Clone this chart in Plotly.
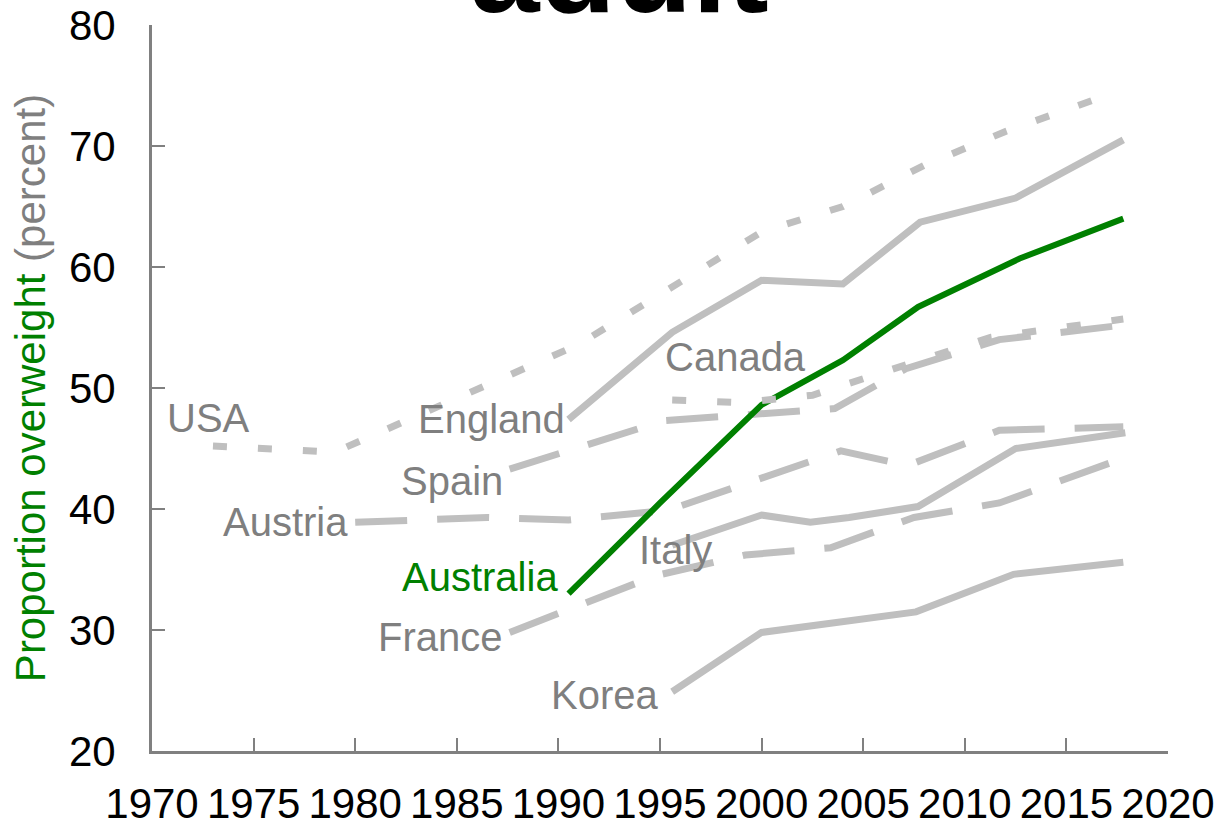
import plotly.graph_objects as go

# Survey years and share of adults overweight (percent)
usa_years = [1973, 1979, 1991, 2000, 2004, 2008, 2012, 2017.5]
usa_vals = [45.2, 44.7, 53.6, 62.9, 65.0, 68.4, 71.2, 74.5]

england_years = [1990.5, 1995.6, 2000, 2004, 2007.8, 2012.5, 2017.8]
england_vals = [47.4, 54.6, 58.9, 58.6, 63.7, 65.7, 70.5]

canada_years = [1995.6, 1999, 2002.5, 2011.3, 2017.8]
canada_vals = [49.0, 48.8, 49.4, 54.2, 55.7]

spain_years = [1987.6, 1995.2, 2003.6, 2007.1, 2011.7, 2017.8]
spain_vals = [43.3, 47.3, 48.3, 51.6, 54.0, 55.2]

austria_years = [1980, 1986.5, 1990.5, 1995.4, 2003.9, 2007.2, 2011.7, 2017.8]
austria_vals = [38.9, 39.3, 39.1, 39.9, 44.8, 43.6, 46.5, 46.8]

italy_years = [1995.6, 2000, 2002.4, 2004.3, 2007.7, 2012.5, 2017.9]
italy_vals = [37.0, 39.5, 38.9, 39.3, 40.2, 45.0, 46.3]

france_years = [1987.6, 1994.8, 1999.2, 2003.4, 2007.5, 2011.7, 2017.8]
france_vals = [29.8, 34.5, 36.2, 36.8, 39.3, 40.5, 44.2]

korea_years = [1995.6, 2000, 2007.6, 2012.4, 2017.8]
korea_vals = [24.9, 29.8, 31.5, 34.6, 35.6]

australia_years = [1990.5, 1995, 2000, 2004, 2007.7, 2012.7, 2017.8]
australia_vals = [33.0, 40.5, 48.6, 52.3, 56.7, 60.7, 64.0]

x_ticks = list(range(1970, 2021, 5))
y_ticks = list(range(20, 81, 10))

# Text labels: (name, year, value, anchor)
labels = [
    ("USA", 1970.64, 47.5, "left"),
    ("England", 1990.42, 47.4, "right"),
    ("Spain", 1987.37, 42.3, "right"),
    ("Austria", 1979.74, 38.9, "right"),
    ("France", 1987.37, 29.4, "right"),
    ("Italy", 1993.87, 36.6, "left"),
    ("Korea", 1995.0, 24.6, "right"),
    ("Canada", 1995.16, 52.6, "left"),
]
australia_label = ("Australia", 1990.08, 34.4, "right")

GREY = "#BFBFBF"
LABEL_GREY = "#7F7F7F"
GREEN = "#008000"
AXIS_GREY = "#808080"
FONT = "Liberation Sans, Arial, sans-serif"

DOTTED = "14px,31px"
LONGDASH = "52px,30px"

series = [
    (usa_years, usa_vals, DOTTED, GREY, 7),
    (england_years, england_vals, "solid", GREY, 7),
    (spain_years, spain_vals, LONGDASH, GREY, 7),
    (austria_years, austria_vals, LONGDASH, GREY, 7),
    (france_years, france_vals, LONGDASH, GREY, 7),
    (italy_years, italy_vals, "solid", GREY, 7),
    (korea_years, korea_vals, "solid", GREY, 7),
    (australia_years, australia_vals, "solid", GREEN, 6),
    (canada_years, canada_vals, DOTTED, GREY, 7),
]

fig = go.Figure()
for xs, ys, dash, color, width in series:
    fig.add_trace(go.Scatter(
        x=xs, y=ys, mode="lines",
        line=dict(color=color, width=width, dash=dash),
        showlegend=False, hoverinfo="skip",
    ))

for name, x, y, anchor in labels:
    fig.add_annotation(x=x, y=y, text=name, showarrow=False,
                       xanchor=anchor, yanchor="middle",
                       font=dict(family=FONT, size=40, color=LABEL_GREY))
name, x, y, anchor = australia_label
fig.add_annotation(x=x, y=y, text=name, showarrow=False,
                   xanchor=anchor, yanchor="middle",
                   font=dict(family=FONT, size=40, color=GREEN))

# Heading
fig.add_annotation(x=0.46, y=1.078, xref="paper", yref="paper",
                   text="<b>adult</b>", showarrow=False,
                   xanchor="center", yanchor="middle",
                   font=dict(family=FONT, size=125, color="#000000"))

fig.update_layout(
    width=1219, height=827,
    margin=dict(l=152, r=51, t=25, b=76, autoexpand=False),
    paper_bgcolor="white", plot_bgcolor="white",
    font=dict(family=FONT, color="#000000"),
    xaxis=dict(
        range=[1970, 2020], tickvals=x_ticks,
        ticktext=[str(t) for t in x_ticks],
        automargin=False,
        showgrid=False, zeroline=False,
        showline=True, linecolor=AXIS_GREY, linewidth=3,
        ticks="inside", ticklen=13, tickwidth=2, tickcolor=AXIS_GREY,
        tickfont=dict(family=FONT, size=42, color="#000000"),
        ticklabelstandoff=14,
    ),
    yaxis=dict(
        range=[20, 80], tickvals=y_ticks,
        automargin=False,
        showgrid=False, zeroline=False,
        showline=True, linecolor=AXIS_GREY, linewidth=3,
        ticks="inside", ticklen=13, tickwidth=2, tickcolor=AXIS_GREY,
        tickfont=dict(family=FONT, size=42, color="#000000"),
        ticklabelstandoff=25,
        title=dict(
            text="<span style='color:#008000'>Proportion overweight</span>"
                 " <span style='color:#7F7F7F'>(percent)</span>",
            font=dict(family=FONT, size=42),
            standoff=11,
        ),
    ),
)

fig.write_html("out.html")
